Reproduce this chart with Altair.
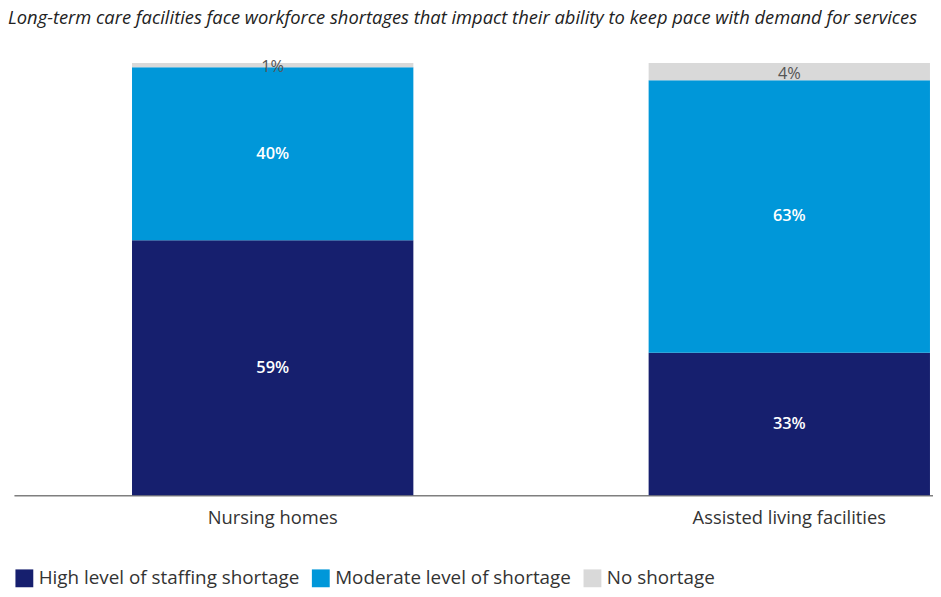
import altair as alt
import pandas as pd

categories = ["Nursing homes", "Assisted living facilities"]
series = ["High level of staffing shortage", "Moderate level of shortage", "No shortage"]
high = [59, 33]
moderate = [40, 63]
no_short = [1, 4]
colors = ["#161F6E", "#0097D9", "#D9D9D9"]

rows = []
for i, cat in enumerate(categories):
    base = 0
    for s, vals in zip(series, [high, moderate, no_short]):
        v = vals[i]
        rows.append({
            "cat": cat, "series": s, "value": v,
            "y0": base, "y1": base + v, "mid": base + v / 2,
            "label": f"{v}%",
            "light": s == "No shortage",
        })
        base += v
df = pd.DataFrame(rows)

FONT = "Open Sans"

x = alt.X("cat:N", sort=categories, title=None,
          scale=alt.Scale(paddingInner=0.4554, paddingOuter=0.1172, align=0.975),
          axis=alt.Axis(labelAngle=0, labelFontSize=18.5, labelColor="#333333",
                        labelFont=FONT, labelPadding=13, ticks=False, labelLimit=0,
                        domainColor="#7F7F7F", domainWidth=1.5))
yscale = alt.Scale(domain=[0, 100], nice=False, zero=True)

bars = alt.Chart(df).mark_bar().encode(
    x=x,
    y=alt.Y("y0:Q", scale=yscale, axis=None),
    y2="y1:Q",
    color=alt.Color("series:N", sort=series,
                    scale=alt.Scale(domain=series, range=colors),
                    legend=alt.Legend(title=None, orient="none", direction="horizontal",
                                      legendX=1, legendY=510, symbolType="square",
                                      symbolSize=324, symbolStrokeWidth=0,
                                      labelFontSize=19, labelFont=FONT, labelLimit=0,
                                      labelColor="#333333", labelOffset=5,
                                      columnPadding=12, symbolOpacity=1)),
)

dark_text = alt.Chart(df).transform_filter("!datum.light").mark_text(
    font=FONT, fontSize=16.5, fontWeight=600, color="white"
).encode(
    x=alt.X("cat:N", sort=categories),
    y=alt.Y("mid:Q", scale=yscale),
    text="label:N",
)

light_text = alt.Chart(df).transform_filter("datum.light").mark_text(
    font=FONT, fontSize=16.5, color="#555555", dy=2
).encode(
    x=alt.X("cat:N", sort=categories),
    y=alt.Y("mid:Q", scale=yscale),
    text="label:N",
)

chart = alt.layer(bars, dark_text, light_text).properties(
    width=927, height=436,
    title=alt.TitleParams(
        "Long-term care facilities face workforce shortages that impact their ability to keep pace with demand for services",
        anchor="start", font=FONT, fontSize=18.5, fontStyle="italic", fontWeight="normal",
        color="#222222", offset=32, dx=-6),
    autosize=alt.AutoSizeParams(type="none"),
    padding={"left": 6, "top": 53, "right": 0, "bottom": 92},
).configure_view(stroke=None)

chart.save("out.html", embed_options={"renderer": "svg", "actions": False})
